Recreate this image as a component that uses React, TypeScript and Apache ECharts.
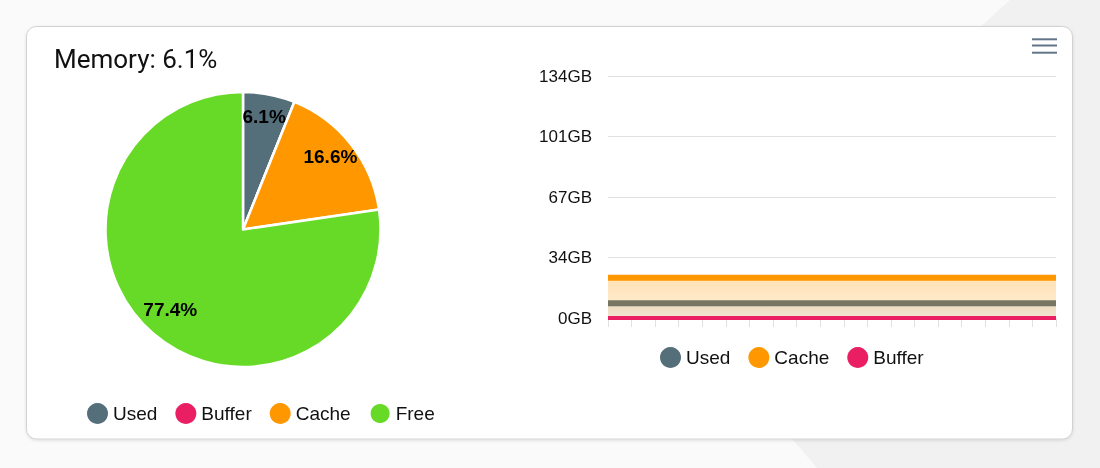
import React, { useEffect, useRef } from "react";
import * as echarts from "echarts";

const titleText = "Memory: 6.1%";

const pieNames = ["Used", "Buffer", "Cache", "Free"];
const piePercent = [6.1, 0, 16.6, 77.4];
const pieColors = ["#546E7A", "#E91E63", "#FF9800", "#66DA26"];

const categories = [
  "1", "2", "3", "4", "5", "6", "7", "8", "9", "10",
  "11", "12", "13", "14", "15", "16", "17", "18", "19", "20",
];
const usedGB = [8.2, 8.2, 8.2, 8.2, 8.2, 8.2, 8.2, 8.2, 8.2, 8.2, 8.2, 8.2, 8.2, 8.2, 8.2, 8.2, 8.2, 8.2, 8.2, 8.2];
const cacheGB = [22.3, 22.3, 22.3, 22.3, 22.3, 22.3, 22.3, 22.3, 22.3, 22.3, 22.3, 22.3, 22.3, 22.3, 22.3, 22.3, 22.3, 22.3, 22.3, 22.3];
const bufferGB = [0, 0, 0, 0, 0, 0, 0, 0, 0, 0, 0, 0, 0, 0, 0, 0, 0, 0, 0, 0];

const yMax = 134;
const yInterval = 33.5;
const yTickLabels = ["0GB", "34GB", "67GB", "101GB", "134GB"];

const lineNames = ["Used", "Cache", "Buffer"];

export default function App() {
  const ref = useRef<HTMLDivElement>(null);

  useEffect(() => {
    if (!ref.current) return;
    const chart = echarts.init(ref.current, null, { renderer: "svg" });
    const font = "'Liberation Sans', Arial, Helvetica, sans-serif";

    const pieData = pieNames.map((n, i) => ({
      name: n,
      value: piePercent[i],
      itemStyle: { color: pieColors[i] },
    }));

    const option: any = {
      animation: false,
      textStyle: { fontFamily: font },
      graphic: [
        {
          type: "rect",
          z: -20,
          silent: true,
          shape: { x: 0, y: 0, width: 1100, height: 468 },
          style: { fill: "#fafafa" },
        },
        {
          type: "polygon",
          z: -19,
          silent: true,
          shape: {
            points: [
              [1010, 0],
              [1100, 0],
              [1100, 468],
              [817, 468],
              [675, 302],
            ],
          },
          style: { fill: "#f1f1f1" },
        },
        {
          type: "rect",
          z: -10,
          silent: true,
          shape: { x: 26.5, y: 26.5, width: 1046, height: 412.5, r: 10 },
          style: {
            fill: "#ffffff",
            stroke: "#d2d2d2",
            lineWidth: 1,
            shadowBlur: 3,
            shadowOffsetY: 1,
            shadowColor: "rgba(0,0,0,0.12)",
          },
        },
        {
          type: "text",
          z: 10,
          left: 54,
          top: 46,
          style: {
            text: titleText,
            fill: "#111111",
            font: "26px Roboto, 'Noto Sans', sans-serif",
          },
        },
        {
          type: "rect",
          z: 10,
          shape: { x: 1032, y: 38.3, width: 25, height: 2 },
          style: { fill: "#627587" },
        },
        {
          type: "rect",
          z: 10,
          shape: { x: 1032, y: 44.5, width: 25, height: 2 },
          style: { fill: "#627587" },
        },
        {
          type: "rect",
          z: 10,
          shape: { x: 1032, y: 51.7, width: 25, height: 2 },
          style: { fill: "#627587" },
        },
      ],
      legend: [
        {
          data: pieNames,
          left: 82,
          top: 397,
          icon: "circle",
          itemWidth: 21,
          itemHeight: 21,
          itemGap: 18,
          textStyle: { fontSize: 19, color: "#111", fontFamily: font },
        },
        {
          data: lineNames,
          left: 655,
          top: 342,
          icon: "circle",
          itemWidth: 21,
          itemHeight: 21,
          itemGap: 18,
          textStyle: { fontSize: 19, color: "#111", fontFamily: font },
        },
      ],
      grid: {
        left: 608,
        right: 44,
        top: 76,
        bottom: 150,
        containLabel: false,
      },
      xAxis: {
        type: "category",
        data: categories,
        boundaryGap: false,
        axisLabel: { show: false },
        axisLine: { show: true, lineStyle: { color: "#e0e0e0" } },
        axisTick: {
          show: true,
          interval: 0,
          length: 9,
          lineStyle: { color: "#e0e0e0" },
        },
        splitLine: { show: false },
      },
      yAxis: {
        type: "value",
        min: 0,
        max: yMax,
        interval: yInterval,
        axisLine: { show: false },
        axisTick: { show: false },
        axisLabel: {
          margin: 16,
          fontSize: 17,
          color: "#111",
          fontFamily: font,
          formatter: (_v: number, i: number) => yTickLabels[i],
        },
        splitLine: { lineStyle: { color: "#e0e0e0", width: 1 } },
      },
      series: [
        {
          type: "pie",
          name: "MemoryPie",
          center: [243, 229.5],
          radius: [0, 137.5],
          startAngle: 90,
          clockwise: true,
          avoidLabelOverlap: false,
          silent: true,
          label: { show: false },
          labelLine: { show: false },
          itemStyle: { borderColor: "#ffffff", borderWidth: 2.5 },
          data: pieData,
        },
        {
          type: "pie",
          name: "MemoryPieLabels",
          center: [243, 229.5],
          radius: [79, 137.5],
          startAngle: 90,
          clockwise: true,
          avoidLabelOverlap: false,
          silent: true,
          z: 5,
          itemStyle: { color: "rgba(0,0,0,0)", borderWidth: 0 },
          label: {
            show: true,
            position: "inside",
            color: "#000",
            fontWeight: "bold",
            fontSize: 19,
            fontFamily: font,
            offset: [0, -4],
            formatter: (p: any) => (p.value > 0 ? p.value.toFixed(1) + "%" : ""),
          },
          labelLine: { show: false },
          data: pieNames.map((n, i) => ({ name: n, value: piePercent[i] })),
        },
        {
          type: "line",
          name: "Used",
          z: 2,
          data: usedGB,
          showSymbol: false,
          symbol: "none",
          color: "#546E7A",
          lineStyle: { width: 6, color: "#546E7A" },
          areaStyle: {
            color: new echarts.graphic.LinearGradient(0, 0, 0, 1, [
              { offset: 0, color: "rgba(84,110,122,0.2)" },
              { offset: 1, color: "rgba(84,110,122,0.12)" },
            ]),
          },
        },
        {
          type: "line",
          name: "Cache",
          z: 3,
          data: cacheGB,
          showSymbol: false,
          symbol: "none",
          color: "#FF9800",
          lineStyle: { width: 6, color: "#FF9800" },
          areaStyle: {
            color: new echarts.graphic.LinearGradient(0, 0, 0, 1, [
              { offset: 0, color: "rgba(255,152,0,0.42)" },
              { offset: 1, color: "rgba(255,152,0,0.2)" },
            ]),
          },
        },
        {
          type: "line",
          name: "Buffer",
          z: 4,
          data: bufferGB,
          showSymbol: false,
          symbol: "none",
          color: "#E91E63",
          lineStyle: { width: 4, color: "#E91E63" },
          areaStyle: { color: "rgba(233,30,99,0.15)" },
        },
      ],
    };

    chart.setOption(option);
    return () => chart.dispose();
  }, []);

  return (
    <div
      ref={ref}
      style={{ position: "fixed", left: 0, top: 0, width: 1100, height: 468 }}
    />
  );
}
